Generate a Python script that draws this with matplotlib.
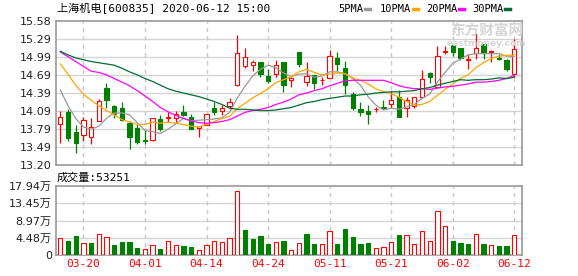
import matplotlib.pyplot as plt
from matplotlib.lines import Line2D
import numpy as np

plt.rcParams['font.family'] = ['DejaVu Sans', 'Noto Sans CJK SC']

dates = ["03-17", "03-18", "03-19", "03-20", "03-23", "03-24", "03-25", "03-26", "03-27", "03-30",
         "03-31", "04-01", "04-02", "04-03", "04-07", "04-08", "04-09", "04-10", "04-13", "04-14",
         "04-15", "04-16", "04-17", "04-20", "04-21", "04-22", "04-23", "04-24", "04-27", "04-28",
         "04-29", "04-30", "05-06", "05-07", "05-08", "05-11", "05-12", "05-13", "05-14", "05-15",
         "05-18", "05-19", "05-20", "05-21", "05-22", "05-25", "05-26", "05-27", "05-28", "05-29",
         "06-01", "06-02", "06-03", "06-04", "06-05", "06-08", "06-09", "06-10", "06-11", "06-12"]

opens = [13.87, 14.08, 13.75, 13.69, 13.66, 13.92, 14.48, 14.18, 14.14, 13.90,
         13.81, 13.61, 13.62, 13.96, 13.98, 13.97, 14.08, 13.99, 13.81, 13.86,
         14.14, 14.10, 14.18, 14.53, 14.83, 14.85, 14.90, 14.67, 14.70, 14.91,
         14.60, 15.07, 14.58, 14.68, 14.60, 14.63, 14.97, 14.80, 14.38, 14.13,
         14.09, 14.12, 14.16, 14.20, 14.32, 14.14, 14.18, 14.33, 14.72, 14.49,
         15.07, 15.19, 15.13, 14.94, 15.05, 15.20, 15.07, 14.97, 14.94, 14.70]
highs = [14.10, 14.12, 13.86, 13.99, 13.98, 14.29, 14.56, 14.19, 14.24, 13.92,
         13.88, 13.78, 13.97, 14.03, 14.07, 14.10, 14.19, 14.05, 13.85, 14.04,
         14.24, 14.19, 14.30, 15.35, 15.14, 14.94, 14.91, 14.78, 14.94, 14.91,
         14.65, 15.07, 14.91, 14.68, 14.66, 15.10, 15.06, 14.92, 14.40, 14.24,
         14.19, 14.16, 14.27, 14.42, 14.44, 14.33, 14.33, 14.77, 14.74, 15.16,
         15.16, 15.19, 15.13, 15.03, 15.38, 15.20, 15.10, 15.04, 14.95, 15.28]
lows = [13.57, 13.60, 13.40, 13.59, 13.54, 13.92, 14.14, 13.97, 13.93, 13.47,
        13.54, 13.54, 13.59, 13.77, 13.91, 13.89, 14.01, 13.79, 13.66, 13.86,
        14.03, 14.02, 14.13, 14.51, 14.81, 14.76, 14.66, 14.56, 14.65, 14.41,
        14.49, 14.82, 14.51, 14.46, 14.52, 14.63, 14.76, 14.37, 14.11, 14.01,
        13.88, 14.08, 14.13, 14.15, 14.00, 14.00, 14.15, 14.32, 14.55, 14.49,
        15.03, 15.00, 14.94, 14.78, 14.96, 14.95, 14.91, 14.94, 14.76, 14.66]
closes = [13.99, 13.64, 13.57, 13.94, 13.82, 14.25, 14.27, 14.04, 13.94, 13.67,
          13.58, 13.60, 13.97, 13.80, 14.00, 14.04, 14.02, 13.80, 13.84, 14.04,
          14.08, 14.15, 14.24, 15.05, 14.98, 14.91, 14.70, 14.59, 14.85, 14.53,
          14.64, 14.87, 14.67, 14.55, 14.61, 15.00, 14.87, 14.53, 14.14, 14.08,
          14.05, 14.13, 14.15, 14.27, 14.00, 14.27, 14.32, 14.62, 14.65, 15.00,
          15.08, 15.07, 14.97, 14.96, 15.14, 15.05, 15.08, 14.95, 14.78, 15.11]

ma5 = [14.44, 14.18, 13.97, 13.83, 13.79, 13.84, 13.97, 14.06, 14.06, 14.03,
       13.90, 13.77, 13.75, 13.72, 13.79, 13.88, 13.97, 13.93, 13.94, 13.95,
       13.96, 13.98, 14.07, 14.31, 14.50, 14.67, 14.78, 14.85, 14.81, 14.72,
       14.66, 14.70, 14.71, 14.65, 14.67, 14.74, 14.74, 14.71, 14.63, 14.52,
       14.33, 14.19, 14.11, 14.14, 14.12, 14.16, 14.20, 14.30, 14.37, 14.57,
       14.73, 14.88, 14.95, 15.02, 15.04, 15.04, 15.04, 15.04, 15.00, 14.99]
ma10 = [14.87, 14.70, 14.52, 14.37, 14.27, 14.18, 14.10, 14.03, 13.95, 13.91,
        13.87, 13.87, 13.91, 13.89, 13.91, 13.89, 13.87, 13.84, 13.83, 13.87,
        13.92, 13.97, 14.00, 14.13, 14.22, 14.31, 14.38, 14.46, 14.56, 14.61,
        14.66, 14.74, 14.78, 14.73, 14.69, 14.70, 14.72, 14.71, 14.64, 14.60,
        14.54, 14.46, 14.41, 14.38, 14.32, 14.25, 14.19, 14.20, 14.25, 14.35,
        14.45, 14.54, 14.63, 14.69, 14.81, 14.89, 14.96, 15.00, 15.01, 15.02]
ma20 = [15.07, 14.99, 14.91, 14.83, 14.75, 14.73, 14.69, 14.63, 14.57, 14.51,
        14.43, 14.34, 14.25, 14.15, 14.08, 14.02, 13.97, 13.93, 13.90, 13.89,
        13.90, 13.92, 13.95, 14.01, 14.07, 14.10, 14.12, 14.15, 14.20, 14.24,
        14.29, 14.36, 14.39, 14.43, 14.46, 14.51, 14.55, 14.59, 14.60, 14.60,
        14.60, 14.60, 14.60, 14.56, 14.51, 14.48, 14.46, 14.46, 14.45, 14.47,
        14.49, 14.50, 14.52, 14.54, 14.57, 14.57, 14.58, 14.60, 14.63, 14.68]
ma30 = [15.08, 15.02, 14.97, 14.94, 14.91, 14.89, 14.87, 14.85, 14.80, 14.74,
        14.69, 14.63, 14.58, 14.52, 14.46, 14.42, 14.39, 14.36, 14.33, 14.29,
        14.25, 14.20, 14.14, 14.12, 14.12, 14.11, 14.10, 14.10, 14.11, 14.13,
        14.15, 14.19, 14.23, 14.25, 14.28, 14.30, 14.32, 14.34, 14.34, 14.36,
        14.37, 14.39, 14.40, 14.41, 14.41, 14.42, 14.43, 14.46, 14.48, 14.52,
        14.55, 14.58, 14.61, 14.60, 14.61, 14.61, 14.62, 14.64, 14.63, 14.65]

# volume, in units of 万
volumes = [4.37, 3.67, 4.99, 3.06, 3.06, 5.42, 4.64, 2.62, 3.41, 3.41,
           1.84, 1.49, 2.54, 1.57, 3.59, 2.54, 2.36, 2.10, 1.31, 2.54,
           3.59, 3.41, 4.37, 16.70, 6.56, 4.20, 4.99, 2.89, 3.41, 3.67,
           1.31, 3.06, 5.51, 2.89, 2.89, 6.30, 2.89, 6.82, 4.72, 2.89,
           3.15, 1.84, 2.10, 3.41, 5.25, 5.16, 2.89, 6.30, 3.67, 11.55,
           7.61, 3.67, 3.15, 2.89, 5.51, 2.89, 2.62, 2.36, 2.36, 5.3251]

price_ticks = [13.20, 13.49, 13.79, 14.09, 14.39, 14.69, 14.99, 15.29, 15.58]
vol_ticks = [0, 4.48, 8.97, 13.45, 17.94]
ma_names = ["5PMA", "10PMA", "20PMA", "30PMA"]
title = "上海机电[600835] 2020-06-12 15:00"

RED = '#ff0000'
GREEN = '#008000'
GRID = '#d4d4d4'
FRAME = '#9a9a9a'
MA_COLORS = ['#999999', '#ffa500', '#ff00ff', '#006e33']

W, H = 578, 276
fig = plt.figure(figsize=(W / 100, H / 100), dpi=100)
ax = fig.add_axes([56 / W, 1 - 165 / H, 466 / W, 144 / H])
axv = fig.add_axes([56 / W, 1 - 255 / H, 466 / W, 69 / H])

x = np.arange(len(dates))
o, h, l, c = (np.array(a) for a in (opens, highs, lows, closes))
up = c >= o
col = np.where(up, RED, GREEN)
fill = np.where(up, 'white', GREEN)
label_idx = list(range(3, len(dates), 8))

# candles
ax.vlines(x, l, h, colors=col, lw=0.9, zorder=3)
body = np.maximum(np.abs(c - o), 0.004)
ax.bar(x, body, bottom=np.minimum(o, c), width=0.56, color=fill, edgecolor=col,
       linewidth=0.8, zorder=4)

for ma, mc in zip([ma5, ma10, ma20, ma30], MA_COLORS):
    ax.plot(x, ma, color=mc, lw=0.9, zorder=5)

# volume colours follow close vs previous close
vol = np.array(volumes)
vup = np.r_[c[0] >= o[0], c[1:] >= c[:-1]]
axv.bar(x, vol, width=0.56, color=np.where(vup, 'white', GREEN),
        edgecolor=np.where(vup, RED, GREEN), linewidth=0.8, zorder=3)

for a, ticks, lims in [(ax, price_ticks, (13.20, 15.58)), (axv, vol_ticks, (0, 17.94))]:
    a.set_xlim(-0.56, len(dates))
    a.set_ylim(*lims)
    for t in ticks[1:-1]:
        a.axhline(t, color=GRID, lw=1, zorder=1)
    for i in label_idx:
        a.axvline(i, color='#c8c8c8', lw=1, dashes=(3, 3), zorder=1)
    for s in a.spines.values():
        s.set_color(FRAME)
        s.set_linewidth(1.2)
    a.tick_params(length=0, labelsize=8, pad=3, colors='#222222')

ax.set_xticks([])
ax.set_yticks(price_ticks)
ax.set_yticklabels([f"{t:.2f}" for t in price_ticks])

axv.set_yticks(vol_ticks)
axv.set_yticklabels(["0" if t == 0 else f"{t:.2f}万" for t in vol_ticks])
axv.set_xticks(label_idx)
axv.set_xticklabels([dates[i] for i in label_idx], color=RED, fontsize=8,
                    family=['DejaVu Sans Mono'])

fig.text(57 / W, 1 - 9 / H, title, fontsize=8, va='center',
         family=['DejaVu Sans Mono', 'Noto Sans CJK SC'])
fig.text(57 / W, 1 - 178 / H, f"成交量:{round(vol[-1] * 10000)}", fontsize=8,
         va='center', family=['DejaVu Sans Mono', 'Noto Sans CJK SC'])

# legend
leg_x = [338, 380, 426, 472]
for name, mc, lx in zip(ma_names, MA_COLORS, leg_x):
    fig.text(lx / W, 1 - 9 / H, name, fontsize=7.5, va='center',
             family=['DejaVu Sans Mono'])
    end = lx + 6.0 * len(name)
    fig.add_artist(Line2D([(end + 3) / W, (end + 8) / W], [1 - 9 / H, 1 - 9 / H],
                          color=mc, lw=2.5, transform=fig.transFigure))

# watermark
fig.text(487 / W, 1 - 31 / H, "东方财富网", fontsize=10.5, weight='bold', color='#d6d6d6',
         ha='center', va='center', family=['Noto Sans CJK SC'])
fig.text(486 / W, 1 - 43 / H, "eastmoney.com", fontsize=6.5, weight='bold', color='#d6d6d6',
         ha='center', va='center')

fig.savefig('out.png', dpi=100)
